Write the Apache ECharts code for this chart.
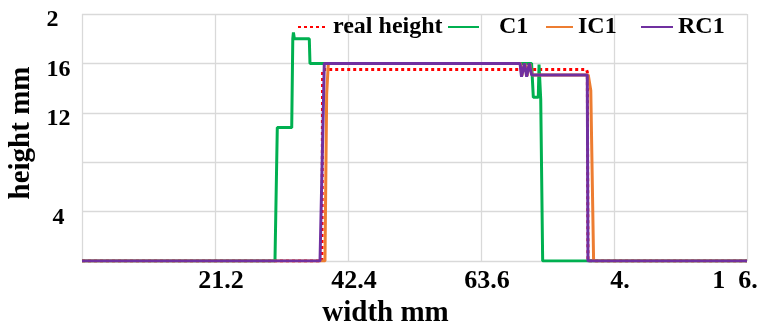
<!DOCTYPE html>
<html><head><meta charset="utf-8">
<script src="https://cdn.jsdelivr.net/npm/echarts@6/dist/echarts.min.js"></script>
<style>html,body{margin:0;padding:0;background:#fff}#c{width:761px;height:323px}</style>
</head><body><div id="c"></div>
<script>
// ---- data ----
const seriesNames = ['real height', 'C1', 'IC1', 'RC1'];
const realX = [0, 38.25, 38.35, 80.4, 80.55, 80.65, 106];
const realY = [0, 0, 15.5, 15.5, 15.3, 0, 0];
const c1X = [0, 30.76, 31.13, 33.43, 33.6, 33.7, 33.85, 36.23, 36.34, 71.66, 71.94, 72.73, 72.85, 73.12, 73.27, 73.43, 106];
const c1Y = [0, 0, 10.8, 10.8, 18.0, 18.5, 18.0, 18.0, 16.0, 16.0, 13.25, 13.25, 15.9, 13.1, 13.1, 0, 0];
const ic1X = [0, 38.73, 39.0, 39.26, 69.9, 70.1, 70.35, 70.6, 70.95, 71.35, 71.75, 80.7, 81.1, 81.55, 106];
const ic1Y = [0, 0, 13.5, 16.0, 16.0, 15.0, 15.0, 16.0, 15.0, 16.0, 15.06, 15.06, 13.8, 0, 0];
const rc1X = [0, 37.94, 38.62, 69.82, 70.06, 70.29, 70.53, 70.88, 71.3, 71.68, 80.54, 80.65, 106];
const rc1Y = [0, 0, 16.0, 16.0, 14.92, 14.92, 16.0, 14.92, 16.0, 15.06, 15.06, 0, 0];
const xTickValues = [0, 21.2, 42.4, 63.6, 84.8, 106];
const xTickLabels = ['', '21.2', '42.4', '63.6', '  4.  ', '1  6.'];
const yTickValues = [0, 4, 8, 12, 16, 20];
const yTickLabels = ['', '4', '', '12', '16', '2  '];
const xName = 'width mm';
const yName = 'height mm';

// ---- build ----
const zip = (xs, ys) => xs.map((x, i) => [x, ys[i]]);
const font = { fontFamily: 'Liberation Serif', fontWeight: 'bold', color: '#000' };
const colors = ['#FF0000', '#00B050', '#ED7D31', '#7030A0'];
const dataSets = [zip(realX, realY), zip(c1X, c1Y), zip(ic1X, ic1Y), zip(rc1X, rc1Y)];

const chart = echarts.init(document.getElementById('c'), null, { renderer: 'canvas' });
const legendCfg = [
  { name: 'real height', left: 297, w: 30, pad: [0, 0, 0, 0] },
  { name: 'C1', left: 447, w: 31, pad: [0, 0, 0, 15] },
  { name: 'IC1', left: 545, w: 27, pad: [0, 0, 0, 0] },
  { name: 'RC1', left: 640, w: 32, pad: [0, 0, 0, 0] }
];
const option = {
  animation: false,
  backgroundColor: '#fff',
  grid: { left: 82, right: 14, top: 14, bottom: 62, outerBoundsMode: 'none', containLabel: false },
  legend: legendCfg.map(l => ({
    data: [l.name], left: l.left, top: 15, padding: 0,
    itemWidth: l.w, itemHeight: 14,
    itemStyle: { opacity: 0 },
    textStyle: Object.assign({ fontSize: 24, padding: l.pad }, font)
  })),
  xAxis: {
    type: 'value', min: 0, max: 106, interval: 21.2,
    axisLine: { show: false }, axisTick: { show: false },
    splitLine: { show: true, lineStyle: { color: '#D9D9D9', width: 1.3 } },
    axisLabel: {
      showMinLabel: true, showMaxLabel: true, margin: 7,
      formatter: function (v) {
        const i = Math.round(v / 21.2);
        const t = xTickLabels[i] || '';
        if (!t) return '';
        return (i === xTickValues.length - 1 ? '{e|' : '{n|') + t + '}';
      },
      rich: {
        n: Object.assign({ fontSize: 26, padding: [0, 0, 0, 12] }, font),
        e: Object.assign({ fontSize: 26, padding: [0, 24, 0, 0] }, font)
      }
    },
    name: xName, nameLocation: 'middle', nameGap: 37,
    nameTextStyle: Object.assign({ fontSize: 29, padding: [0, 58, 0, 0] }, font)
  },
  yAxis: {
    type: 'value', min: 0, max: 20, interval: 4,
    axisLine: { show: false }, axisTick: { show: false },
    splitLine: { show: true, lineStyle: { color: '#D9D9D9', width: 1.3 } },
    axisLabel: {
      showMinLabel: true, showMaxLabel: true,
      align: 'center', margin: 23.5,
      formatter: function (v) {
        const t = yTickLabels[Math.round(v / 4)] || '';
        return t ? '{y|' + t + '}' : '';
      },
      rich: { y: Object.assign({ fontSize: 24, padding: [12, 0, 0, 0] }, font) }
    },
    name: yName, nameLocation: 'middle', nameGap: 43,
    nameTextStyle: Object.assign({ fontSize: 29, padding: [0, 0, 0, 9] }, font)
  },
  series: seriesNames.map((n, i) => ({
    name: n, type: 'line', data: dataSets[i], symbol: 'none', showSymbol: false,
    color: colors[i],
    lineStyle: { color: colors[i], width: 3, type: i === 0 ? [3, 3] : 'solid' },
    z: 2 + i
  }))
};
chart.setOption(option);
</script>
</body></html>
